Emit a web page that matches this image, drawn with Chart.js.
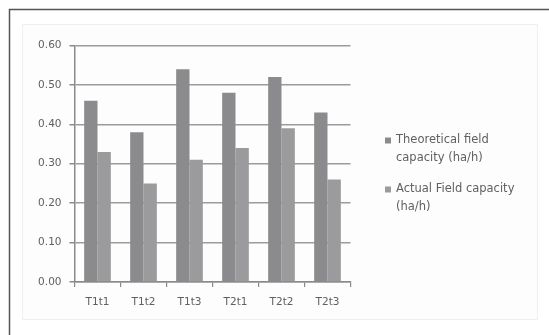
<!DOCTYPE html>
<html>
<head>
<meta charset="utf-8">
<script src="https://cdn.jsdelivr.net/npm/chart.js@4/dist/chart.umd.min.js"></script>
<style>
  html, body { margin: 0; padding: 0; background: #fff; }
  canvas { display: block; }
</style>
</head>
<body>
<canvas id="c" width="549" height="335"></canvas>
<script>
// Field capacity per treatment (ha/h)
const categories = ['T1t1', 'T1t2', 'T1t3', 'T2t1', 'T2t2', 'T2t3'];
const theoretical = [0.46, 0.38, 0.54, 0.48, 0.52, 0.43];
const actual = [0.33, 0.25, 0.31, 0.34, 0.39, 0.26];
const seriesLabels = [
  ['Theoretical field', 'capacity (ha/h)'],
  ['Actual Field capacity', '(ha/h)']
];
const yMin = 0, yMax = 0.6, yStep = 0.1;

const FONT = '"DejaVu Sans", "Liberation Sans", sans-serif';
const TEXT = '#606060';
const COLORS = ['#8b8b8d', '#9b9b9d'];

// Outer frame and the light chart panel behind the plot
const framePlugin = {
  id: 'frame',
  beforeDraw(chart) {
    const ctx = chart.ctx;
    ctx.save();
    ctx.fillStyle = '#ffffff';
    ctx.fillRect(0, 0, chart.width, chart.height);
    ctx.fillStyle = '#fdfdfd';
    ctx.fillRect(22, 24, 516, 296);
    ctx.strokeStyle = '#efefef';
    ctx.lineWidth = 1;
    ctx.strokeRect(22.5, 24.5, 515, 295);
    ctx.strokeStyle = '#555555';
    ctx.lineWidth = 1.5;
    ctx.beginPath();
    ctx.moveTo(9.5, chart.height);
    ctx.lineTo(9.5, 9.5);
    ctx.lineTo(chart.width, 9.5);
    ctx.stroke();
    ctx.restore();
  }
};

// Legend on the right with wrapped labels
const legendPlugin = {
  id: 'sideLegend',
  afterDraw(chart) {
    const ctx = chart.ctx;
    ctx.save();
    ctx.font = '11.5px ' + FONT;
    ctx.textBaseline = 'middle';
    ctx.textAlign = 'left';
    const x = 385, lineH = 18;
    const starts = [140, 189];
    chart.data.datasets.forEach((ds, i) => {
      const y0 = starts[i];
      ctx.fillStyle = ds.backgroundColor;
      ctx.fillRect(x, y0 - 2.5, 6, 6);
      ctx.fillStyle = TEXT;
      seriesLabels[i].forEach((t, j) => {
        ctx.fillText(t, x + 11, y0 + j * lineH);
      });
    });
    ctx.restore();
  }
};

new Chart(document.getElementById('c'), {
  type: 'bar',
  data: {
    labels: categories,
    datasets: [
      { label: seriesLabels[0].join(' '), data: theoretical, backgroundColor: COLORS[0] },
      { label: seriesLabels[1].join(' '), data: actual, backgroundColor: COLORS[1] }
    ]
  },
  options: {
    responsive: false,
    animation: false,
    devicePixelRatio: 1,
    layout: { padding: { left: 0, top: 45.5, right: 198.5, bottom: 0 } },
    datasets: { bar: { categoryPercentage: 0.58, barPercentage: 1.0 } },
    plugins: { legend: { display: false }, tooltip: { enabled: false } },
    scales: {
      x: {
        afterFit(scale) { scale.height = 53; },
        grid: { offset: true, drawOnChartArea: false, drawTicks: true, tickLength: 5, color: '#8a8a8a', lineWidth: 1.2 },
        border: { display: true, color: '#8a8a8a', width: 1.5 },
        ticks: { color: TEXT, font: { family: FONT, size: 10.5 }, padding: 9, maxRotation: 0 }
      },
      y: {
        min: yMin, max: yMax,
        afterFit(scale) { scale.width = 74.5; },
        grid: { color: '#9c9c9c', lineWidth: 1.5, drawTicks: true, tickLength: 5, tickColor: '#8a8a8a' },
        border: { display: true, color: '#8a8a8a', width: 1.5 },
        ticks: {
          stepSize: yStep,
          color: TEXT,
          font: { family: FONT, size: 10.5 },
          padding: 8,
          callback: v => Number(v).toFixed(2)
        }
      }
    }
  },
  plugins: [framePlugin, legendPlugin]
});
</script>
</body>
</html>
